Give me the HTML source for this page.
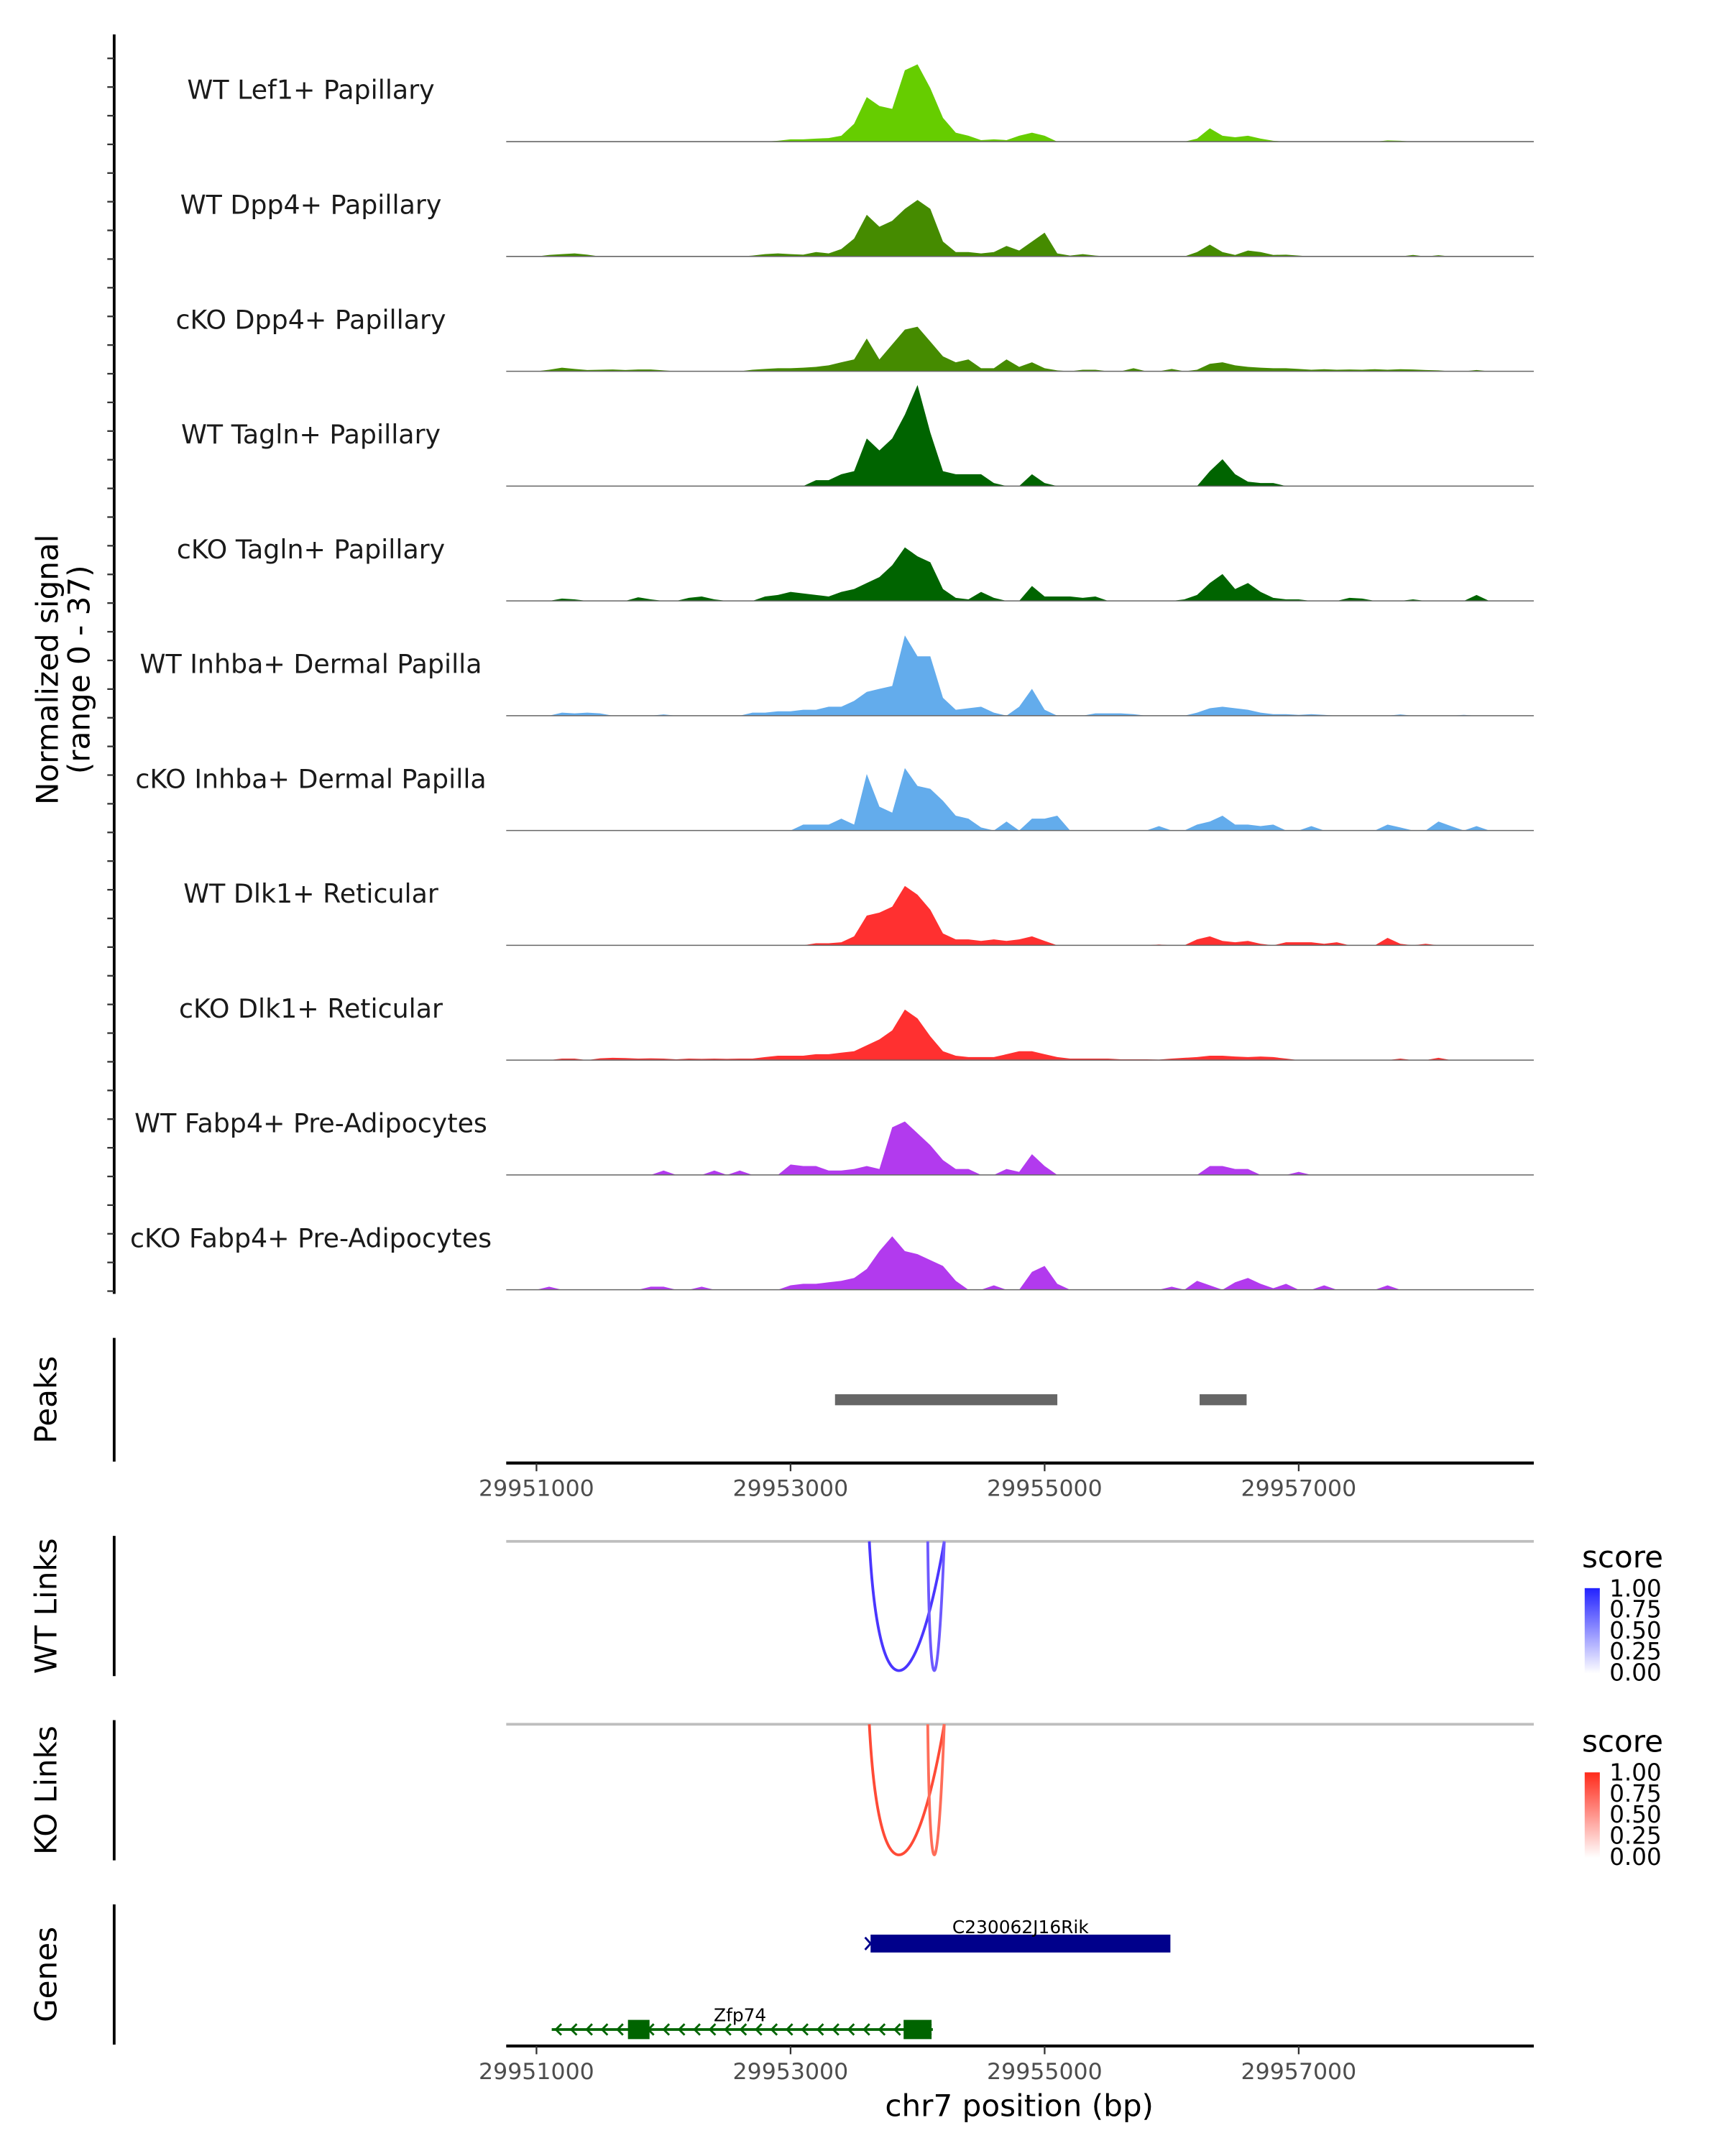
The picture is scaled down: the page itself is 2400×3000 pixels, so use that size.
<!DOCTYPE html>
<html><head><meta charset="utf-8"><style>
html,body{margin:0;padding:0;background:#fff;}
svg{display:block;}
text{font-family:"DejaVu Sans","Liberation Sans",sans-serif;}
</style></head><body>
<svg id="chart" xmlns="http://www.w3.org/2000/svg" width="2400" height="3000" viewBox="0 0 1254 1568" preserveAspectRatio="none">
<g id="signal"></g>
<g id="axes"></g>
<g id="links"></g>
<g id="genes"></g>
</svg>
<script>
const binStart = 29951000;
const binStep = 100;
const trackNames = ["WT Lef1+ Papillary","WT Dpp4+ Papillary","cKO Dpp4+ Papillary","WT Tagln+ Papillary","cKO Tagln+ Papillary","WT Inhba+ Dermal Papilla","cKO Inhba+ Dermal Papilla","WT Dlk1+ Reticular","cKO Dlk1+ Reticular","WT Fabp4+ Pre-Adipocytes","cKO Fabp4+ Pre-Adipocytes"];
const trackColors = ["#66cd00","#458b00","#458b00","#006400","#006400","#63acec","#63acec","#ff3030","#ff3030","#b23aee","#b23aee"];
const sigLef1WT = [0,0,0,0,0,0,0,0,0,0, 0,0,0,0,0,0,0,0,0,0.3, 0.8,0.8,1,1.2,2,6,15,12,11,24, 26,18,8,3,2,0.5,0.8,0.5,2,3, 2,0,0,0,0,0,0,0,0,0, 0,0,1,4.5,2,1.5,2,1,0.3,0, 0,0,0,0,0,0,0,0.4,0.3,0, 0,0,0,0,0,0,0];
const sigDpp4WT = [0,0.5,0.8,1,0.6,0,0,0,0,0, 0,0,0,0,0,0,0,0.3,0.8,1, 0.8,0.6,1.5,1,2.5,6,14,10,12,16, 19,16,5,1.5,1.5,1,1.5,3.5,2,5, 8,1,0.3,0.8,0.3,0,0,0,0,0, 0,0,1.5,4,1.5,0.5,2,1.5,0.5,0.6, 0.3,0,0,0,0,0,0,0,0,0.5, 0,0.4,0,0,0,0,0];
const sigDpp4KO = [0,0.5,1.2,0.8,0.4,0.5,0.6,0.4,0.6,0.6, 0.3,0,0,0,0,0,0,0.5,0.8,1, 1,1.2,1.5,2,3,4,11,4,9,14, 15,10,5,3,4,1,1,4,1.5,3, 1,0.3,0,0.5,0.5,0,0,1,0,0, 0.8,0,0.5,2.5,3,2,1.5,1.2,1,1, 0.8,0.5,0.7,0.5,0.6,0.5,0.7,0.5,0.7,0.6, 0.4,0.3,0,0,0.4,0,0];
const sigTaglnWT = [0,0,0,0,0,0,0,0,0,0, 0,0,0,0,0,0,0,0,0,0, 0,0,2,2,4,5,16,12,16,24, 34,18,5,4,4,4,1,0,0,4, 1,0,0,0,0,0,0,0,0,0, 0,0,0,5,9,4,1.5,1,1,0, 0,0,0,0,0,0,0,0,0,0, 0,0,0,0,0,0,0];
const sigTaglnKO = [0,0,0.8,0.5,0,0,0,0,1.2,0.5, 0,0,1,1.5,0.5,0,0,0,1.5,2, 3,2.5,2,1.5,3,4,6,8,12,18, 15,13,4,1,0.5,3,1,0,0,5, 1.5,1.5,1.5,1,1.5,0,0,0,0,0, 0,0.5,2,6,9,4,6,3,1,0.5, 0.5,0,0,0,1,0.8,0,0,0,0.5, 0,0,0,0,2,0,0];
const sigInhbaWT = [0,0,1,0.8,1,0.8,0,0,0,0, 0.4,0,0,0,0,0,0,1,1,1.5, 1.5,2,2,3,3,5,8,9,10,27, 20,20,6,2,2.5,3,1,0,3,9, 2,0,0,0,0.8,0.8,0.8,0.5,0,0, 0,0,1,2.5,3,2.5,2,1,0.5,0.5, 0.3,0.5,0.3,0,0,0,0,0,0.4,0, 0,0,0,0.3,0,0,0];
const sigInhbaKO = [0,0,0,0,0,0,0,0,0,0, 0,0,0,0,0,0,0,0,0,0, 0,2,2,2,4,2,19,8,6,21, 15,14,10,5,4,1,0,3,0,4, 4,5,0,0,0,0,0,0,0,1.5, 0,0,2,3,5,2,2,1.5,2,0, 0,1.5,0,0,0,0,0,2,1,0, 0,3,1.5,0,1.5,0,0];
const sigDlk1WT = [0,0,0,0,0,0,0,0,0,0, 0,0,0,0,0,0,0,0,0,0, 0,0,0.7,0.7,1,3,10,11,13,20, 17,12,4,2,2,1.5,2,1.5,2,3, 1.5,0,0,0,0,0,0,0,0,0.3, 0,0,2,3,1.5,1,1.5,0.5,0,1, 1,1,0.5,1,0,0,0,2.5,0.5,0, 0.5,0,0,0,0,0,0];
const sigDlk1KO = [0,0,0.5,0.5,0,0.6,0.8,0.7,0.5,0.6, 0.5,0.3,0.5,0.4,0.5,0.4,0.5,0.5,1,1.5, 1.5,1.5,2,2,2.5,3,5,7,10,17, 14,8,3,1.5,1,1,1,2,3,3, 2,1,0.5,0.5,0.5,0.5,0.3,0.3,0.3,0.2, 0.5,0.8,1,1.5,1.5,1.2,1,1.2,1,0.5, 0,0,0,0,0,0,0,0,0.5,0, 0,0.8,0,0,0,0,0];
const sigFabp4WT = [0,0,0,0,0,0,0,0,0,0, 1.5,0,0,0,1.5,0,1.5,0,0,0, 3.5,3,3,1.5,1.5,2,3,2,16,18, 14,10,5,2,2,0,0,2,1,7, 3,0,0,0,0,0,0,0,0,0, 0,0,0,3,3,2,2,0,0,0, 1,0,0,0,0,0,0,0,0,0, 0,0,0,0,0,0,0];
const sigFabp4KO = [0,1,0,0,0,0,0,0,0,1, 1,0,0,1,0,0,0,0,0,0, 1.5,2,2,2.5,3,4,7,13,18,13, 12,10,8,3,0,0,1.5,0,0,6, 8,2,0,0,0,0,0,0,0,0, 1,0,3,1.5,0,2.5,4,2,0.5,2, 0,0,1.5,0,0,0,0,1.5,0,0, 0,0,0,0,0,0,0];
const allSignals = [sigLef1WT,sigDpp4WT,sigDpp4KO,sigTaglnWT,sigTaglnKO,sigInhbaWT,sigInhbaKO,sigDlk1WT,sigDlk1KO,sigFabp4WT,sigFabp4KO];
const signalMax = 37;
const xTicks = [29951000,29953000,29955000,29957000];
const peakStarts = [29953350,29956220];
const peakEnds = [29955100,29956590];
const linkStarts = [29953620,29954080];
const linkEnds = [29954210,29954210];
const linkScores = [0.85,0.7];
const geneNames = ["C230062J16Rik","Zfp74"];
const geneStarts = [29953630,29951120];
const geneEnds = [29955990,29954120];
const zfpExonStarts = [29951720,29953890];
const zfpExonEnds = [29951890,29954110];
const legendLabels = ["1.00","0.75","0.50","0.25","0.00"];

const NS = "http://www.w3.org/2000/svg";
const plotL = 368, plotR = 1115;
function xs(bp){ return 390 + (bp - 29951000) * (184.7/2000); }
function mk(tag, attrs, parent){ const e = document.createElementNS(NS, tag); for (const k in attrs) e.setAttribute(k, attrs[k]); parent.appendChild(e); return e; }

const sig = document.getElementById('signal');
const trackH = 80;
function ys(v, base){ return base - v * trackH / signalMax; }
allSignals.forEach((arr, t) => {
  const base = 103 + t * 83.5;
  let d = `M${xs(binStart)},${base}`;
  arr.forEach((v, i) => { d += ` L${xs(binStart + i*binStep).toFixed(1)},${ys(v, base).toFixed(1)}`; });
  d += ` L${xs(binStart + (arr.length-1)*binStep)},${base} Z`;
  const p = mk('path', {d: d, fill: trackColors[t]}, sig);
  
  
  const bl = mk('line', {x1: plotL, x2: plotR, y1: base, y2: base, stroke: '#666', 'stroke-width': 0.8}, sig);
  
  
  const lb = mk('text', {x: 226, y: base - 31, 'text-anchor': 'middle', 'font-size': 19, fill: '#1a1a1a'}, sig);
  lb.textContent = trackNames[t];
  
  
});

const ax = document.getElementById('axes');
let a = mk('line', {x1: 83, x2: 83, y1: 25, y2: 941, stroke: '#000', 'stroke-width': 2}, ax);


for (let y = 939; y > 30; y -= 20.85) {
  const tk = mk('line', {x1: 78, x2: 83, y1: y, y2: y, stroke: '#333', 'stroke-width': 1.2}, ax);
  
  
}
let yt = mk('text', {transform: 'translate(42,487) rotate(-90)', 'text-anchor': 'middle', 'font-size': 22, fill: '#000'}, ax);
yt.textContent = 'Normalized signal';


let yt2 = mk('text', {transform: 'translate(65,487) rotate(-90)', 'text-anchor': 'middle', 'font-size': 22, fill: '#000'}, ax);
yt2.textContent = '(range 0 - 37)';



function sideAxis(y1, y2, label, cy){
  const l = mk('line', {x1: 83, x2: 83, y1: y1, y2: y2, stroke: '#000', 'stroke-width': 2}, ax);
  
  
  const t = mk('text', {transform: `translate(41,${cy}) rotate(-90)`, 'text-anchor': 'middle', 'font-size': 22, fill: '#000'}, ax);
  t.textContent = label;
  
  
}
sideAxis(973, 1063, 'Peaks', 1018);
sideAxis(1117, 1219, 'WT Links', 1168);
sideAxis(1251, 1353, 'KO Links', 1302);
sideAxis(1385, 1487, 'Genes', 1436);

peakStarts.forEach((s, i) => {
  const r = mk('rect', {x: xs(s), y: 1014, width: xs(peakEnds[i]) - xs(s), height: 8, fill: '#666'}, ax);
  
  
});

function xAxis(y){
  const l = mk('line', {x1: plotL, x2: plotR, y1: y, y2: y, stroke: '#000', 'stroke-width': 2.2}, ax);
  
  
  xTicks.forEach(v => {
    const tk = mk('line', {x1: xs(v), x2: xs(v), y1: y, y2: y + 6, stroke: '#333', 'stroke-width': 1.2}, ax);
    
    
    const tl = mk('text', {x: xs(v), y: y + 24, 'text-anchor': 'middle', 'font-size': 16.5, fill: '#4d4d4d'}, ax);
    tl.textContent = v;
    
    
  });
}
xAxis(1064);
xAxis(1488);
let xt = mk('text', {x: 741, y: 1539, 'text-anchor': 'middle', 'font-size': 22, fill: '#000'}, ax);
xt.textContent = 'chr7 position (bp)';



const lk = document.getElementById('links');
function linkTrack(top, bottom, hue, legendY, gid){
  const g = mk('line', {x1: plotL, x2: plotR, y1: top, y2: top, stroke: '#bebebe', 'stroke-width': 2}, lk);
  
  
  linkStarts.forEach((s, i) => {
    const x1 = xs(s), x2 = xs(linkEnds[i]);
    const depth = (bottom - top) * 4 / 3;
    const col = hue === 'blue' ? `rgb(${Math.round(255*(1-linkScores[i])*0.9+40)},${Math.round(255*(1-linkScores[i])*0.9+20)},255)` : `rgb(255,${Math.round(255*(1-linkScores[i])*0.9+40)},${Math.round(255*(1-linkScores[i])*0.9+20)})`;
    const p = mk('path', {d: `M${x1},${top} C${x1+(x2-x1)*0.12},${top+depth} ${x1+(x2-x1)*0.6},${top+depth} ${x2},${top}`, fill: 'none', stroke: col, 'stroke-width': 2}, lk);
    
    
  });
  const defs = mk('defs', {}, lk);
  const lg = mk('linearGradient', {id: gid, x1: 0, y1: 1, x2: 0, y2: 0}, defs);
  mk('stop', {offset: 0, 'stop-color': '#ffffff'}, lg);
  mk('stop', {offset: 1, 'stop-color': hue === 'blue' ? '#2222ff' : '#ff2a1a'}, lg);
  const st = mk('text', {x: 1150, y: legendY, 'font-size': 22, fill: '#000'}, lk);
  st.textContent = 'score';
  
  
  const bar = mk('rect', {x: 1152, y: legendY + 15, width: 11, height: 62, fill: `url(#${gid})`}, lk);
  
  
  legendLabels.forEach((t, i) => {
    const tl = mk('text', {x: 1170, y: legendY + 21 + i * 15.3, 'font-size': 17, fill: '#000'}, lk);
    tl.textContent = t;
    
    
  });
}
linkTrack(1121, 1215, 'blue', 1140, 'gradBlue');
linkTrack(1254, 1349, 'red', 1274, 'gradRed');

const gn = document.getElementById('genes');
let r1 = mk('rect', {x: xs(geneStarts[0]), y: 1407, width: xs(geneEnds[0]) - xs(geneStarts[0]), height: 13, fill: '#00008b'}, gn);


let e1 = mk('path', {d: `M${xs(geneStarts[0])-4},1409 L${xs(geneStarts[0])},1413.5 L${xs(geneStarts[0])-4},1418`, fill: 'none', stroke: '#00008b', 'stroke-width': 1.5}, gn);


let t1 = mk('text', {x: (xs(geneStarts[0]) + xs(geneEnds[0]))/2, y: 1406, 'text-anchor': 'middle', 'font-size': 13, fill: '#000'}, gn);
t1.textContent = geneNames[0];


let gl = mk('line', {x1: xs(geneStarts[1]), x2: xs(geneEnds[1]), y1: 1476, y2: 1476, stroke: '#006400', 'stroke-width': 2}, gn);


for (let x = xs(geneStarts[1]) + 3; x < xs(geneEnds[1]) - 5; x += 11.2) {
  const ar = mk('path', {d: `M${x+4},${1472} L${x},${1476} L${x+4},${1480}`, fill: 'none', stroke: '#006400', 'stroke-width': 1.5}, gn);
  
  
}
zfpExonStarts.forEach((s, i) => {
  const e = mk('rect', {x: xs(s), y: 1469, width: xs(zfpExonEnds[i]) - xs(s), height: 14, fill: '#006400'}, gn);
  
  
});
let t2 = mk('text', {x: 538, y: 1470, 'text-anchor': 'middle', 'font-size': 13, fill: '#000'}, gn);
t2.textContent = geneNames[1];


</script>
</body></html>
